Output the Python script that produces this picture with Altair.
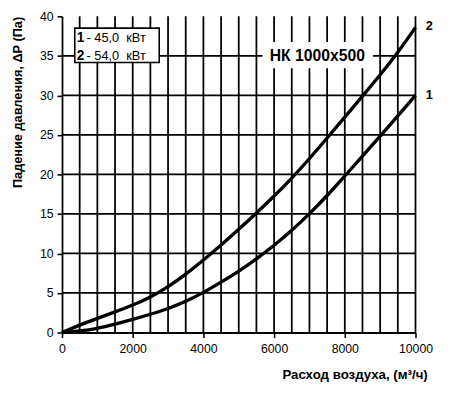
import altair as alt
import pandas as pd

# ---- data ----
flow = [0, 500, 1000, 1500, 2000, 2500, 3000, 3500, 4000, 4500, 5000,
        5500, 6000, 6500, 7000, 7500, 8000, 8500, 9000, 9500, 10000]
dp_1 = [0, 0.17, 0.5, 1.05, 1.65, 2.3, 3.0, 3.9, 5.05, 6.35, 7.75,
        9.3, 11.0, 12.9, 15.0, 17.3, 19.8, 22.3, 24.85, 27.4, 30.0]
dp_2 = [0, 0.95, 1.8, 2.6, 3.45, 4.45, 5.75, 7.35, 9.15, 11.05, 13.05,
        15.1, 17.25, 19.5, 22.0, 24.6, 27.25, 29.9, 32.6, 35.4, 38.6]

x_ticks = [0, 2000, 4000, 6000, 8000, 10000]
y_ticks = [0, 5, 10, 15, 20, 25, 30, 35, 40]
grid_x = list(range(500, 10001, 500))
grid_y = [5, 10, 15, 20, 25, 30, 35]

legend_nums = ["1", "2"]
legend_texts = ["- 45,0\u00a0\u00a0кВт", "- 54,0\u00a0\u00a0кВт"]
model_label = "НК 1000x500"
x_title = "Расход воздуха, (м³/ч)"
y_title = "Падение давления, ΔP (Па)"

W, H = 360, 322
FONT = "Liberation Sans"

def px_x(p):  # page pixel -> data x
    return (p - 63) / W * 10000

def px_y(p):  # page pixel -> data y
    return (13 + H - p) / H * 40

curves = pd.DataFrame({
    "flow": flow * 2,
    "dp": dp_1 + dp_2,
    "curve": ["1"] * len(flow) + ["2"] * len(flow),
})

xs = alt.Scale(domain=[0, 10000], nice=False, zero=False)
ys = alt.Scale(domain=[0, 40], nice=False, zero=False)

x_axis = alt.Axis(
    values=x_ticks, format="d", grid=False, title=x_title,
    titleX=372, titleY=43, titleAlign="right", titleBaseline="middle",
    titleFont=FONT, titleFontSize=13.5, titleFontWeight="bold", titleColor="black",
    labelFont=FONT, labelFontSize=12.5, labelColor="black", labelPadding=5,
    tickSize=5, tickColor="black", tickWidth=1.6,
    domainColor="black", domainWidth=1.8, labelFlush=False,
)
y_axis = alt.Axis(
    values=y_ticks, format="d", grid=False, title=y_title,
    titleX=-45, titleY=0, titleAlign="right", titleBaseline="middle", titleAngle=270,
    titleFont=FONT, titleFontSize=13, titleFontWeight="bold", titleColor="black",
    labelFont=FONT, labelFontSize=12.5, labelColor="black", labelPadding=4,
    tickSize=5, tickColor="black", tickWidth=1.6,
    domainColor="black", domainWidth=1.8, labelFlush=False,
)

def X(f):
    return alt.X(f, scale=xs, axis=x_axis)

def Y(f):
    return alt.Y(f, scale=ys, axis=y_axis)

gx = alt.Chart(pd.DataFrame({"g": grid_x})).mark_rule(
    color="black", strokeWidth=1.8
).encode(x=X("g:Q"))

gy = alt.Chart(pd.DataFrame({"g": grid_y})).mark_rule(
    color="black", strokeWidth=1.8
).encode(y=Y("g:Q"))

boxes = pd.DataFrame({
    "x": [px_x(76), px_x(268)],
    "x2": [px_x(162), px_x(379)],
    "y": [px_y(60), px_y(65)],
    "y2": [px_y(25), px_y(40)],
    "stroke": ["black", "white"],
})
box_layer = alt.Chart(boxes).mark_rect(fill="white", strokeWidth=1.6).encode(
    x=X("x:Q"), x2="x2:Q",
    y=Y("y:Q"), y2="y2:Q",
    stroke=alt.Stroke("stroke:N", scale=None),
)

leg_df = pd.DataFrame({
    "num": legend_nums,
    "txt": legend_texts,
    "xn": [px_x(78)] * 2,
    "xt": [px_x(88)] * 2,
    "y": [px_y(35), px_y(53)],
})
leg_num = alt.Chart(leg_df).mark_text(
    align="left", baseline="middle", font=FONT, fontSize=14, fontWeight="bold", color="black"
).encode(x=X("xn:Q"), y=Y("y:Q"), text="num:N")
leg_txt = alt.Chart(leg_df).mark_text(
    align="left", baseline="middle", font=FONT, fontSize=13, color="black"
).encode(x=X("xt:Q"), y=Y("y:Q"), text="txt:N")

model_txt = alt.Chart(pd.DataFrame({
    "x": [px_x(323)], "y": [px_y(53)], "t": [model_label]
})).mark_text(
    align="center", baseline="middle", font=FONT, fontSize=16, fontWeight="bold", color="black"
).encode(x=X("x:Q"), y=Y("y:Q"), text="t:N")

end_lbl = alt.Chart(pd.DataFrame({
    "x": [px_x(437), px_x(437)], "y": [px_y(93), px_y(23)], "t": ["1", "2"]
})).mark_text(
    align="center", baseline="middle", font=FONT, fontSize=13, fontWeight="bold", color="black"
).encode(x=X("x:Q"), y=Y("y:Q"), text="t:N")

lines = alt.Chart(curves).mark_line(
    color="black", strokeWidth=3.4, interpolate="basis"
).encode(
    x=X("flow:Q"),
    y=Y("dp:Q"),
    detail="curve:N",
)

chart = alt.layer(gx, gy, box_layer, leg_num, leg_txt, model_txt, end_lbl, lines).properties(
    width=W, height=H,
    autosize=alt.AutoSizeParams(type="none"),
    padding={"left": 55, "top": 5, "right": 27, "bottom": 52},
    background="white",
).configure_view(stroke=None)

chart.save("out.html", embed_options={"renderer": "svg", "actions": False})
